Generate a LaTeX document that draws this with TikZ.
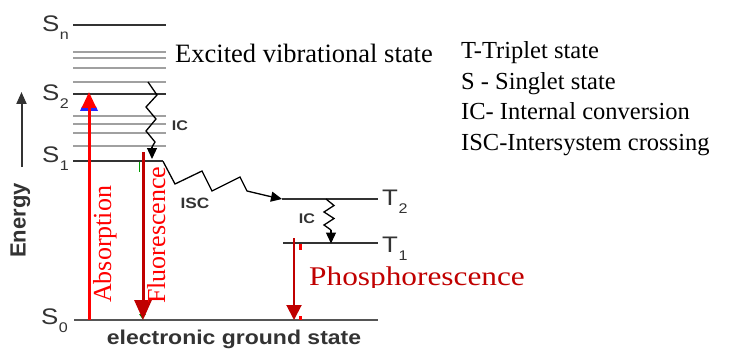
\documentclass[tikz,border=0pt]{standalone}
\usepackage{fontspec}
\setmainfont{Liberation Serif}
\newfontfamily\lsans[FakeStretch=1.15]{Liberation Sans}
\newfontfamily\lsansrot{Liberation Sans}
\newfontfamily\wideserif[FakeStretch=1.16]{Liberation Serif}
\usetikzlibrary{arrows.meta}
\definecolor{lvl}{HTML}{333333}
\definecolor{vib}{HTML}{A0A0A0}
\definecolor{gnd}{HTML}{555555}
\definecolor{darkred}{HTML}{C00000}
\definecolor{brightred}{HTML}{FF0000}
\newcommand{\levlab}[2]{#1\kern0.5pt\raisebox{-8pt}{\fontsize{14}{14}\selectfont #2}}
\begin{document}
\begin{tikzpicture}[x=1pt,y=-1pt,
  levelline/.style={draw=lvl, line width=2pt},
  vibline/.style={draw=vib, line width=2pt},
  statelab/.style={font=\lsans\fontsize{22.5}{22.5}\selectfont, text=lvl, inner sep=0, anchor=base west},
  smalllab/.style={font=\lsans\bfseries\fontsize{14}{14}\selectfont, text=lvl, inner sep=0},
  serifred/.style={font=\fontsize{26}{26}\selectfont, inner sep=0},
  legendtext/.style={font=\fontsize{24.5}{24.5}\selectfont, inner sep=0, anchor=base west},
  wavy/.style={draw=black, line width=1.3pt, line join=miter},
  tipsmall/.style={-{Triangle[width=10pt,length=11pt]}}
]
\useasboundingbox (0,0) rectangle (733,350);

% ---- level coordinates
\coordinate (SnL) at (73,25);   \coordinate (SnR) at (166,25);
\coordinate (S2L) at (73,94.3); \coordinate (S2R) at (166,94.3);
\coordinate (S1L) at (73,161.3);\coordinate (S1R) at (163,161.3);
\coordinate (T2L) at (282,199); \coordinate (T2R) at (378,199);
\coordinate (T1L) at (283,243); \coordinate (T1R) at (378,243);
\coordinate (S0L) at (74,320);  \coordinate (S0R) at (378,320);

% vibrational levels
\foreach \yy in {51.7,58.3,68.3,81.7,116,124,132.7,146}
  \draw[vibline] (73,\yy) -- (166,\yy);

% electronic levels
\draw[levelline] (SnL) -- (SnR);
\draw[levelline] (S2L) -- (S2R);
\draw[levelline] (S1L) -- (S1R);
\draw[levelline] (T2L) -- (T2R);
\draw[levelline] (T1L) -- (T1R);
\draw[draw=gnd, line width=2.6pt] (S0L) -- (S0R);

% state labels
\node[statelab] (lSn) at (42,31.5) {\levlab{S}{n}};
\node[statelab] (lS2) at (42,100.5) {\levlab{S}{2}};
\node[statelab] (lS1) at (42,162.5) {\levlab{S}{1}};
\node[statelab] (lS0) at (41,324.5) {\levlab{S}{0}};
\node[statelab] (lT2) at (382,205.5) {\levlab{T}{2}};
\node[statelab] (lT1) at (382,252.5) {\levlab{T}{1}};

% Energy axis
\coordinate (Ebot) at (21.5,167);
\coordinate (Etop) at (21.5,92);
\draw[line width=2pt, draw=lvl, -{Triangle[width=10pt,length=12pt]}] (Ebot) -- (Etop);
\node[font=\lsansrot\bfseries\fontsize{22}{22}\selectfont, text=lvl, rotate=90, anchor=base west, inner sep=0] (energy) at (25.5,258) {Energy};

% ground state label
\node[font=\lsans\bfseries\fontsize{20}{20}\selectfont, text=lvl, inner sep=0] (gs) at (234,339) {electronic ground state};

% internal conversion S2 -> S1
\coordinate (ic1a) at (148,82);
\coordinate (ic1b) at (152,159);
\draw[wavy] (ic1a) -- (157,95) -- (146,107) -- (156,119) -- (146,131) -- (155,142) -- (152,147);
\draw[wavy, tipsmall] (152,147) -- (ic1b);
\node[smalllab] (ic1) at (180,126) {IC};

% intersystem crossing S1 -> T2
\draw[wavy] (S1R) -- (175,184) -- (202,171) -- (212,191) -- (240,177) -- (247,191) -- (268,196);
\draw[wavy, tipsmall] (268,196) -- (T2L);
\node[font=\lsans\bfseries\fontsize{15}{15}\selectfont, text=lvl, inner sep=0] (isc) at (195,203) {ISC};

% internal conversion T2 -> T1
\coordinate (ic2a) at (326,199);
\coordinate (ic2b) at (331,243.5);
\draw[wavy] (ic2a) -- (334,205.5) -- (324,212) -- (334,218.5) -- (324,225) -- (331,230);
\draw[wavy, tipsmall] (331,230) -- (ic2b);
\node[smalllab] (ic2) at (307,219) {IC};

% small colour remnants
\fill[blue!85!white] (82,106.5) -- (96,106.5) -- (98,111) -- (80,111) -- cycle;
\fill[blue] (88,316) rectangle (90.5,320);
\fill[green!55!black] (139,314) -- (146,314) -- (142.5,319) -- cycle;
\draw[green!60!black, line width=0.8pt] (139.5,162) -- (139.5,172);
\fill[red] (299,244) rectangle (301.5,250);
\fill[red] (298.5,316) rectangle (301.5,319.5);

% absorption
\coordinate (absB) at (89,320);
\coordinate (absT) at (89,92);
\draw[brightred, line width=3pt, -{Triangle[width=14pt,length=16pt]}] (absB) -- (absT);
\node[serifred, text=brightred, rotate=90, anchor=base west] (abs) at (111,303) {Absorption};

% fluorescence
\coordinate (flT) at (143,152);
\coordinate (flB) at (143,320);
\draw[darkred, line width=3pt, -{Triangle[width=17pt,length=20pt]}] (flT) -- (flB);
\node[serifred, text=brightred, rotate=90, anchor=base west] (fl) at (165,304) {Fluorescence};

% phosphorescence
\coordinate (phT) at (294,238);
\coordinate (phB) at (294,320);
\draw[darkred, line width=2pt, -{Triangle[width=15pt,length=15pt]}] (phT) -- (phB);
\begin{scope}
\clip (300,250) rectangle (600,287.5);
\node[font=\wideserif\fontsize{27}{27}\selectfont, text=darkred, inner sep=0, anchor=base west] (ph) at (309,285) {Phosphorescence};
\end{scope}

% texts
\node[font=\fontsize{26.5}{26.5}\selectfont, inner sep=0, anchor=base west] (exc) at (175,63) {Excited vibrational state};
\node[legendtext] (leg1) at (461,59) {T-Triplet state};
\node[legendtext] (leg2) at (461,89.5) {S - Singlet state};
\node[legendtext] (leg3) at (461,120) {IC- Internal conversion};
\node[legendtext] (leg4) at (461,150.5) {ISC-Intersystem crossing};
\end{tikzpicture}
\end{document}
